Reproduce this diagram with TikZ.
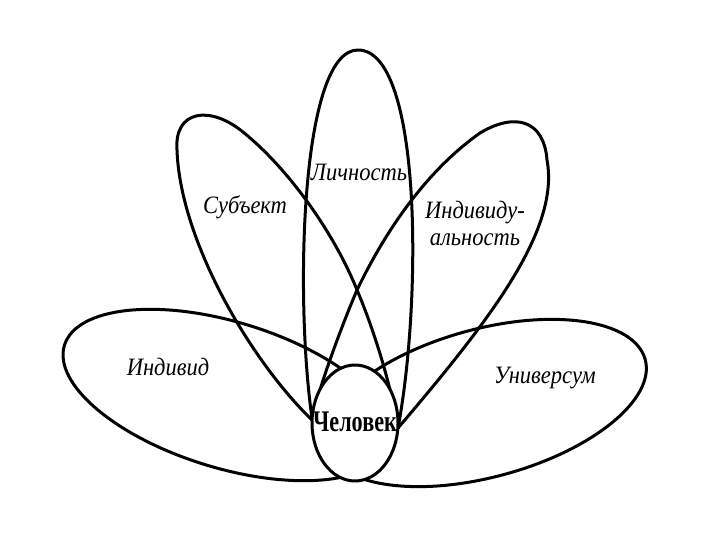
\documentclass[tikz,border=0pt]{standalone}
\usepackage{fontspec}
\setmainfont{Liberation Serif}
\newfontfamily\lblfont{Liberation Serif}[FakeStretch=0.9]
\newfontfamily\cenfont{Liberation Serif}[FakeStretch=0.74]
\usepackage{tikz}

\begin{document}
\begin{tikzpicture}[x=1pt, y=-1pt,
    petal/.style={line width=3pt, line join=round},
    lbl/.style={font=\lblfont\fontsize{25}{27}\selectfont\itshape, align=center, inner sep=0pt}]
    \useasboundingbox[fill=white] (0,0) rectangle (720,540);

    % upright petals meet at the sides of the centre
    \draw[petal] (312,418) .. controls (295,300) and (300,50) .. (358,50)
        .. controls (422,50) and (422,300) .. (398,428) -- cycle;
    \draw[petal] (312,420) .. controls (250,360) and (180,240) .. (177,150)
        .. controls (174,110) and (210,105) .. (243,132)
        .. controls (290,170) and (335,235) .. (357,290)
        .. controls (372,325) and (390,380) .. (398,428) -- cycle;
    \draw[petal] (398,428) .. controls (490,320) and (560,230) .. (547,160)
        .. controls (544,120) and (515,112) .. (480,133)
        .. controls (425,172) and (385,232) .. (357,290)
        .. controls (340,330) and (320,385) .. (312,418) -- cycle;

    \draw[petal, rotate around={-17:(227,395)}] (227,395) ellipse (170 and 73);
    \draw[petal, rotate around={15.2:(485,403)}] (485,403) ellipse (166 and 74);

    \draw[petal, fill=white] (355,423) ellipse (43 and 58);

    \node[lbl] (lichnost) at (359,172) {Личность};
    \node[lbl] (subjekt) at (245,207) {Субъект};
    \node[lbl] (individualnost) at (475,223) {Индивиду-\\альность};
    \node[lbl] (individ) at (168,367) {Индивид};
    \node[lbl] (universum) at (545,378) {Универсум};
    \node[inner sep=0pt] (chelovek) at (355,422)
        {\cenfont\fontsize{30}{30}\selectfont\bfseries Человек};
\end{tikzpicture}
\end{document}
